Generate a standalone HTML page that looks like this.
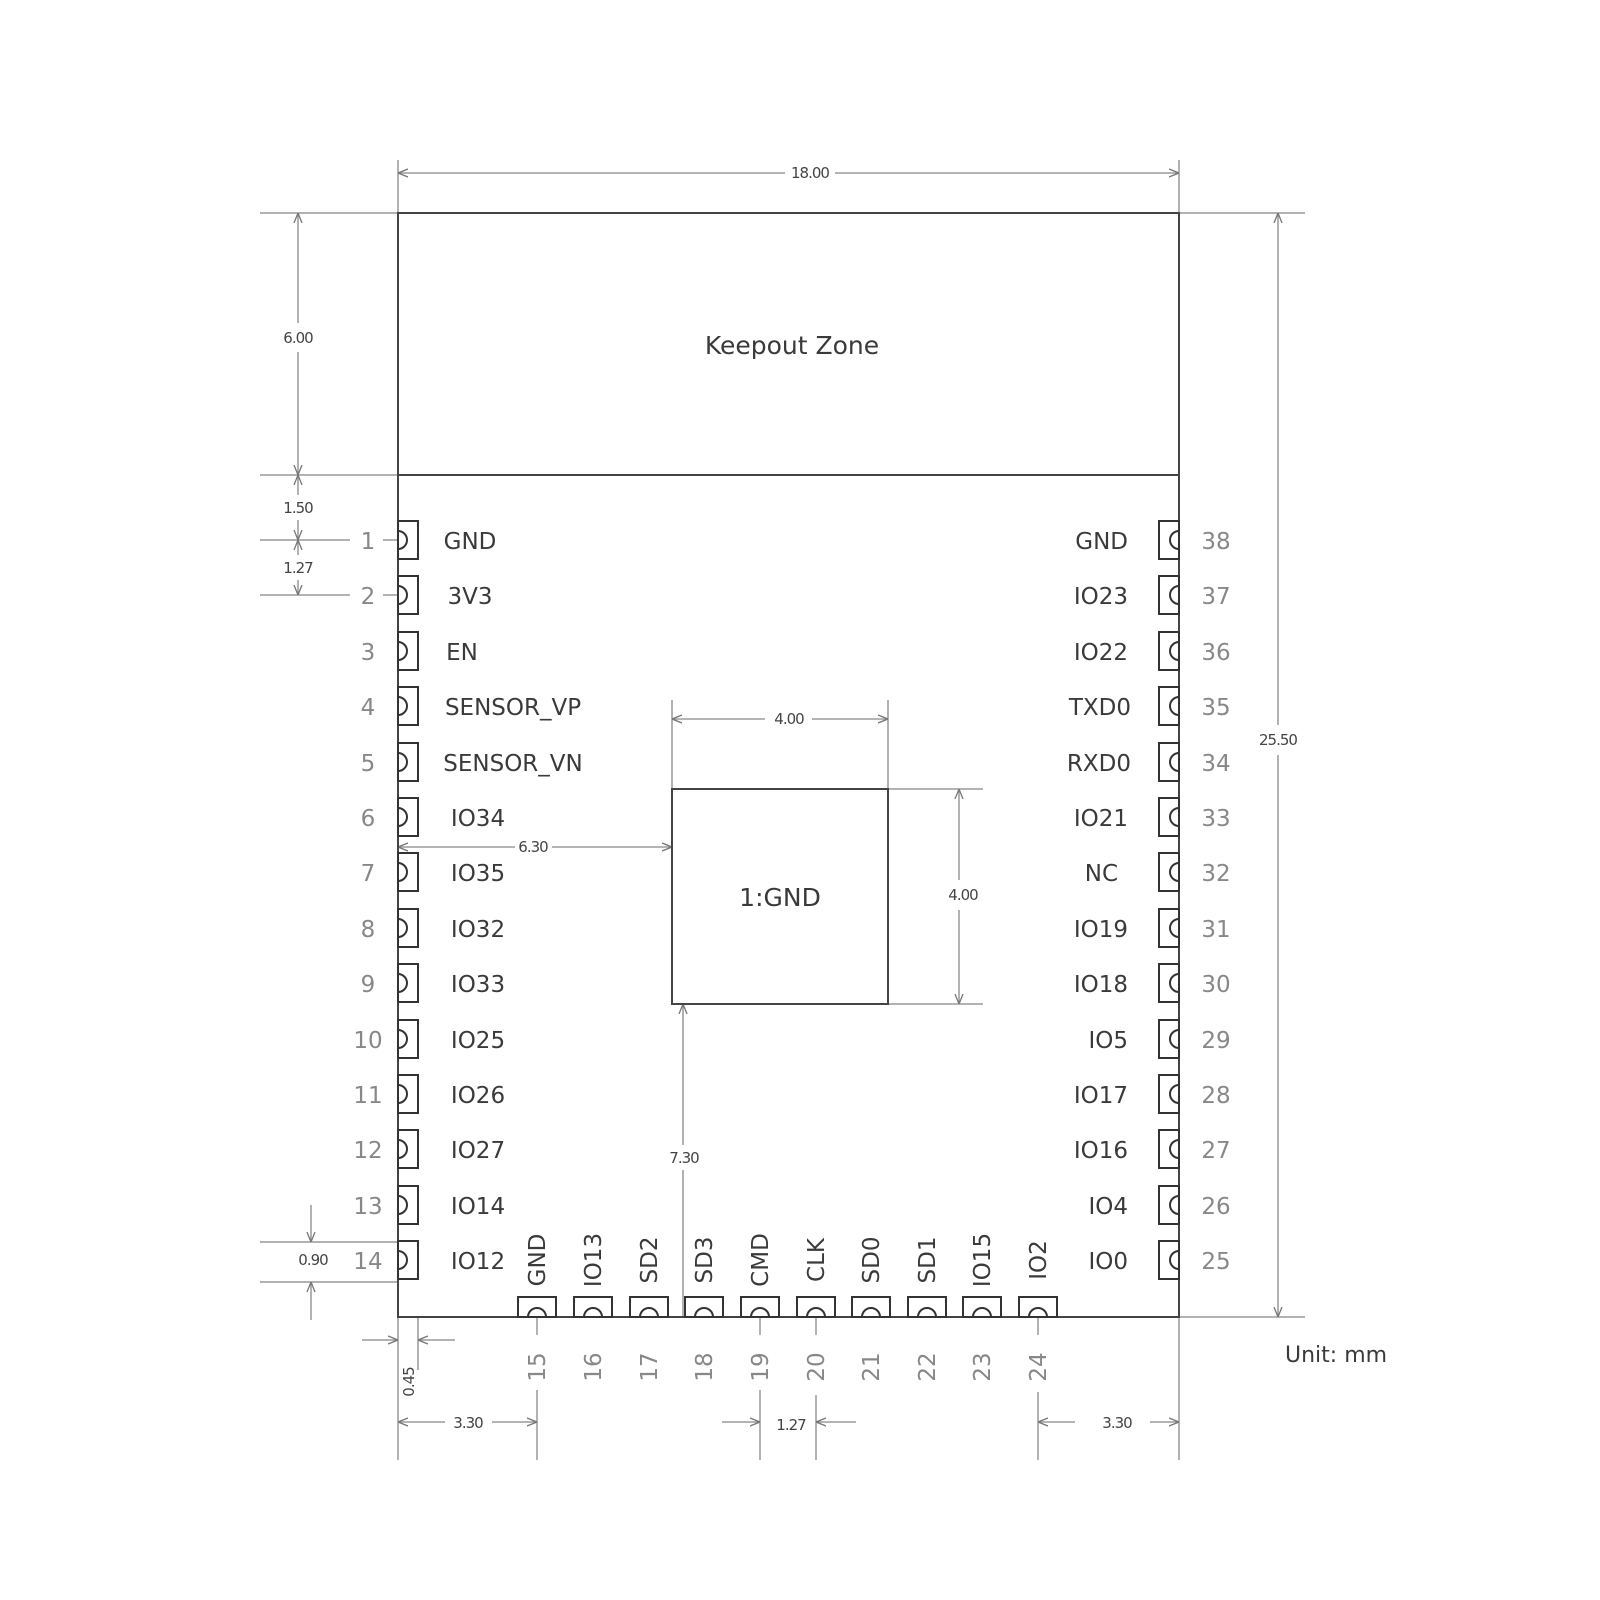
<!DOCTYPE html>
<html><head><meta charset="utf-8"><style>
html,body{margin:0;padding:0;background:#fff}
svg{display:block}
text{font-family:"DejaVu Sans","Liberation Sans",sans-serif}
.l{font-size:23px;fill:#3a3a3a}
.n{font-size:23px;fill:#888}
.d{font-size:15px;fill:#444;letter-spacing:-1px}
</style></head><body>
<svg id="s" width="1600" height="1600" viewBox="0 0 1600 1600" xmlns="http://www.w3.org/2000/svg">
<defs>
<marker id="a" viewBox="0 0 10 10" refX="10" refY="5" markerWidth="10" markerHeight="10" orient="auto-start-reverse" markerUnits="userSpaceOnUse"><path d="M0,1 L10,5 L0,9" fill="none" stroke="#777" stroke-width="1.3"/></marker>
</defs>
<g stroke="#999" stroke-width="1.5" fill="none">
<line x1="398" y1="160" x2="398" y2="1460"/>
<line x1="1179" y1="160" x2="1179" y2="1460"/>
<line x1="260" y1="213" x2="398" y2="213"/>
<line x1="1179" y1="213" x2="1305" y2="213"/>
<line x1="260" y1="475" x2="398" y2="475"/>
<line x1="1179" y1="1317" x2="1305" y2="1317"/>
<line x1="260" y1="540" x2="350" y2="540"/>
<line x1="260" y1="595" x2="350" y2="595"/>
<line x1="383" y1="540" x2="398" y2="540"/>
<line x1="383" y1="595" x2="398" y2="595"/>
<line x1="260" y1="1242" x2="398" y2="1242"/>
<line x1="260" y1="1282" x2="398" y2="1282"/>
<line x1="418" y1="1317" x2="418" y2="1370"/>
<line x1="672" y1="700" x2="672" y2="789"/>
<line x1="888" y1="700" x2="888" y2="789"/>
<line x1="888" y1="789" x2="983" y2="789"/>
<line x1="888" y1="1004" x2="983" y2="1004"/>
<line x1="537" y1="1317" x2="537" y2="1335"/>
<line x1="537" y1="1390" x2="537" y2="1460"/>
<line x1="760" y1="1317" x2="760" y2="1335"/>
<line x1="760" y1="1390" x2="760" y2="1460"/>
<line x1="816" y1="1317" x2="816" y2="1335"/>
<line x1="816" y1="1395" x2="816" y2="1460"/>
<line x1="1038" y1="1317" x2="1038" y2="1335"/>
<line x1="1038" y1="1392" x2="1038" y2="1460"/>
</g>
<g stroke="#888" stroke-width="1.3" fill="none">
<line x1="398" y1="173" x2="785" y2="173" marker-start="url(#a)"/>
<line x1="835" y1="173" x2="1179" y2="173" marker-end="url(#a)"/>
<line x1="298" y1="213" x2="298" y2="323" marker-start="url(#a)"/>
<line x1="298" y1="352" x2="298" y2="475" marker-end="url(#a)"/>
<line x1="298" y1="475" x2="298" y2="495" marker-start="url(#a)"/>
<line x1="298" y1="520" x2="298" y2="540" marker-end="url(#a)"/>
<line x1="298" y1="540" x2="298" y2="555" marker-start="url(#a)"/>
<line x1="298" y1="580" x2="298" y2="595" marker-end="url(#a)"/>
<line x1="1278" y1="213" x2="1278" y2="725" marker-start="url(#a)"/>
<line x1="1278" y1="755" x2="1278" y2="1317" marker-end="url(#a)"/>
<line x1="311" y1="1205" x2="311" y2="1242" marker-end="url(#a)"/>
<line x1="311" y1="1320" x2="311" y2="1282" marker-end="url(#a)"/>
<line x1="362" y1="1340" x2="398" y2="1340" marker-end="url(#a)"/>
<line x1="455" y1="1340" x2="418" y2="1340" marker-end="url(#a)"/>
<line x1="672" y1="719" x2="765" y2="719" marker-start="url(#a)"/>
<line x1="812" y1="719" x2="888" y2="719" marker-end="url(#a)"/>
<line x1="959" y1="789" x2="959" y2="880" marker-start="url(#a)"/>
<line x1="959" y1="910" x2="959" y2="1004" marker-end="url(#a)"/>
<line x1="398" y1="847" x2="515" y2="847" marker-start="url(#a)"/>
<line x1="552" y1="847" x2="672" y2="847" marker-end="url(#a)"/>
<line x1="683" y1="1145" x2="683" y2="1004" marker-end="url(#a)"/>
<line x1="683" y1="1170" x2="683" y2="1317"/>
<line x1="398" y1="1422" x2="445" y2="1422" marker-start="url(#a)"/>
<line x1="492" y1="1422" x2="537" y2="1422" marker-end="url(#a)"/>
<line x1="722" y1="1422" x2="760" y2="1422" marker-end="url(#a)"/>
<line x1="856" y1="1422" x2="816" y2="1422" marker-end="url(#a)"/>
<line x1="1038" y1="1422" x2="1075" y2="1422" marker-start="url(#a)"/>
<line x1="1150" y1="1422" x2="1179" y2="1422" marker-end="url(#a)"/>
</g>
<g stroke="#444" stroke-width="2" fill="none">
<rect x="398" y="213" width="781" height="1104"/>
<line x1="398" y1="475" x2="1179" y2="475"/>
<rect x="672" y="789" width="216" height="215"/>
</g>
<g id="pads" stroke="#333" stroke-width="2" fill="none"></g>
<text x="792" y="354" class="l" text-anchor="middle" style="font-size:25px">Keepout Zone</text>
<text x="780" y="906" class="l" text-anchor="middle" style="font-size:25px">1:GND</text>
<text x="1285" y="1362" class="l" style="font-size:22px">Unit: mm</text>
<g class="d" text-anchor="middle">
<text x="810" y="178">18.00</text>
<text x="298" y="343">6.00</text>
<text x="298" y="513">1.50</text>
<text x="298" y="573">1.27</text>
<text x="1278" y="745">25.50</text>
<text x="789" y="724">4.00</text>
<text x="963" y="900">4.00</text>
<text x="533" y="852">6.30</text>
<text x="684" y="1163">7.30</text>
<text x="313" y="1265">0.90</text>
<text x="468" y="1428">3.30</text>
<text x="791" y="1430">1.27</text>
<text x="1117" y="1428">3.30</text>
<text transform="translate(414,1382) rotate(-90)">0.45</text>
</g>
<g class="n" text-anchor="middle">
<text x="368" y="549">1</text><text x="368" y="604">2</text><text x="368" y="660">3</text><text x="368" y="715">4</text><text x="368" y="771">5</text><text x="368" y="826">6</text><text x="368" y="881">7</text><text x="368" y="937">8</text><text x="368" y="992">9</text><text x="368" y="1048">10</text><text x="368" y="1103">11</text><text x="368" y="1158">12</text><text x="368" y="1214">13</text><text x="368" y="1269">14</text>
<text x="1216" y="549">38</text><text x="1216" y="604">37</text><text x="1216" y="660">36</text><text x="1216" y="715">35</text><text x="1216" y="771">34</text><text x="1216" y="826">33</text><text x="1216" y="881">32</text><text x="1216" y="937">31</text><text x="1216" y="992">30</text><text x="1216" y="1048">29</text><text x="1216" y="1103">28</text><text x="1216" y="1158">27</text><text x="1216" y="1214">26</text><text x="1216" y="1269">25</text>
</g>
<g class="l" text-anchor="middle">
<text x="470" y="549">GND</text><text x="470" y="604">3V3</text><text x="462" y="660">EN</text><text x="513" y="715">SENSOR_VP</text><text x="513" y="771">SENSOR_VN</text><text x="478" y="826">IO34</text><text x="478" y="881">IO35</text><text x="478" y="937">IO32</text><text x="478" y="992">IO33</text><text x="478" y="1048">IO25</text><text x="478" y="1103">IO26</text><text x="478" y="1158">IO27</text><text x="478" y="1214">IO14</text><text x="478" y="1269">IO12</text>
</g>
<g class="l" text-anchor="end">
<text x="1128" y="549">GND</text><text x="1128" y="604">IO23</text><text x="1128" y="660">IO22</text><text x="1131" y="715">TXD0</text><text x="1131" y="771">RXD0</text><text x="1128" y="826">IO21</text><text x="1118" y="881">NC</text><text x="1128" y="937">IO19</text><text x="1128" y="992">IO18</text><text x="1128" y="1048">IO5</text><text x="1128" y="1103">IO17</text><text x="1128" y="1158">IO16</text><text x="1128" y="1214">IO4</text><text x="1128" y="1269">IO0</text>
</g>
<g class="l" text-anchor="middle">
<text transform="translate(545,1260) rotate(-90)">GND</text>
<text transform="translate(601,1260) rotate(-90)">IO13</text>
<text transform="translate(657,1260) rotate(-90)">SD2</text>
<text transform="translate(712,1260) rotate(-90)">SD3</text>
<text transform="translate(768,1260) rotate(-90)">CMD</text>
<text transform="translate(824,1260) rotate(-90)">CLK</text>
<text transform="translate(879,1260) rotate(-90)">SD0</text>
<text transform="translate(935,1260) rotate(-90)">SD1</text>
<text transform="translate(990,1260) rotate(-90)">IO15</text>
<text transform="translate(1046,1260) rotate(-90)">IO2</text>
</g>
<g class="n" text-anchor="middle">
<text transform="translate(545,1367) rotate(-90)">15</text>
<text transform="translate(601,1367) rotate(-90)">16</text>
<text transform="translate(657,1367) rotate(-90)">17</text>
<text transform="translate(712,1367) rotate(-90)">18</text>
<text transform="translate(768,1367) rotate(-90)">19</text>
<text transform="translate(824,1367) rotate(-90)">20</text>
<text transform="translate(879,1367) rotate(-90)">21</text>
<text transform="translate(935,1367) rotate(-90)">22</text>
<text transform="translate(990,1367) rotate(-90)">23</text>
<text transform="translate(1046,1367) rotate(-90)">24</text>
</g>
</svg>
<script>
var g=document.getElementById('pads'),h='';
var ys=[540,595,651,706,762,817,872,928,983,1039,1094,1149,1205,1260];
ys.forEach(function(c){
h+='<rect x="398" y="'+(c-19)+'" width="20" height="38"/>';
h+='<path d="M398 '+(c-9)+' A9 9 0 0 1 398 '+(c+9)+'"/>';
h+='<rect x="1159" y="'+(c-19)+'" width="20" height="38"/>';
h+='<path d="M1179 '+(c-9)+' A9 9 0 0 0 1179 '+(c+9)+'"/>';
});
[537,593,649,704,760,816,871,927,982,1038].forEach(function(x){
h+='<rect x="'+(x-19)+'" y="1297" width="38" height="20"/>';
h+='<path d="M'+(x-9)+' 1317 A9 9 0 0 1 '+(x+9)+' 1317"/>';
});
g.innerHTML=h;
</script>
</body></html>
